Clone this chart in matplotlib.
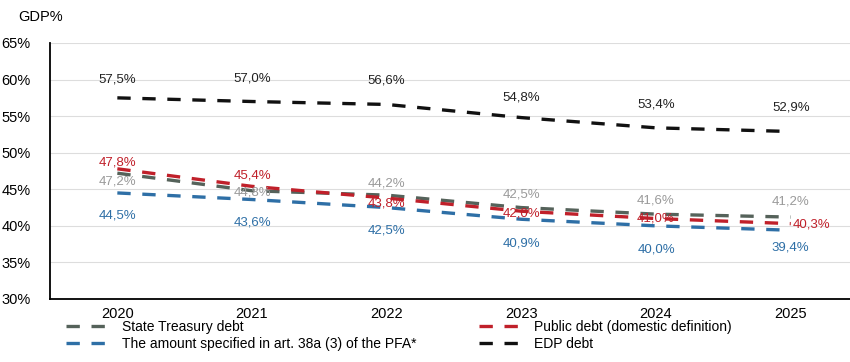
import matplotlib
matplotlib.use("Agg")
import matplotlib.pyplot as plt

plt.rcParams['font.family'] = ['Liberation Sans', 'DejaVu Sans']

years = ["2020", "2021", "2022", "2023", "2024", "2025"]
treasury = [47.2, 44.8, 44.2, 42.5, 41.6, 41.2]
public = [47.8, 45.4, 43.8, 42.0, 41.0, 40.3]
art38a = [44.5, 43.6, 42.5, 40.9, 40.0, 39.4]
edp = [57.5, 57.0, 56.6, 54.8, 53.4, 52.9]
yticks = [30, 35, 40, 45, 50, 55, 60, 65]

fig = plt.figure(figsize=(8.5, 3.62), dpi=100)
ax = fig.add_axes([50/850, 1-299/362, 800/850, (299-43)/362])

x = list(range(len(years)))
# (name, values, line colour, label colour, label offsets in pixels)
series = [
    ("State Treasury debt", treasury, "#55625a", "#9a9a9a",
     [(0, -8), (0, -2), (0, 12), (0, 13), (0, 14), (0, 16)]),
    ("The amount specified in art. 38a (3) of the PFA*", art38a, "#2e6fa6", "#2e6fa6",
     [(0, -23), (0, -23), (0, -23), (0, -24), (0, -24), (0, -17)]),
    ("Public debt (domestic definition)", public, "#c0202a", "#c0202a",
     [(0, 6), (0, 11), (0, -5), (0, -2), (0, 0), (21, -1)]),
    ("EDP debt", edp, "#111111", "#222222",
     [(0, 18), (0, 23), (0, 24), (0, 20), (0, 23), (0, 24)]),
]

handles = {}
for name, vals, col, lcol, offs in series:
    ln, = ax.plot(x, vals, color=col, lw=2.4, dashes=(4, 3.5), label=name)
    handles[name] = ln
    for xi, v, (dx, dy) in zip(x, vals, offs):
        ax.annotate(f"{v:.1f}%".replace(".", ","), (xi, v), xytext=(dx, dy),
                    textcoords="offset pixels", ha="center", va="center",
                    fontsize=9.5, color=lcol)

ax.set_xlim(-0.5, 5.44)
ax.set_ylim(30, 65)
ax.set_yticks(yticks)
ax.set_yticklabels([f"{t}%" for t in yticks])
ax.set_xticks(x)
ax.set_xticklabels(years)
ax.grid(axis='y', color='#dddddd', lw=0.8)
ax.set_axisbelow(True)
for s in ['top', 'right']:
    ax.spines[s].set_visible(False)
ax.spines['left'].set_linewidth(1.3)
ax.spines['bottom'].set_linewidth(1.3)
ax.tick_params(axis='both', length=0, labelsize=10.5)
ax.tick_params(axis='x', pad=6)
ax.tick_params(axis='y', pad=14)

fig.text(18/850, 1-17/362, "GDP%", fontsize=10.5, va='center', ha='left')

order = ["State Treasury debt", "The amount specified in art. 38a (3) of the PFA*",
         "Public debt (domestic definition)", "EDP debt"]
leg = fig.legend([handles[n] for n in order], order, ncol=2, loc='upper left',
                 bbox_to_anchor=(66/850, 1-320/362), frameon=False, fontsize=10,
                 handlelength=3.6, columnspacing=4.5, labelspacing=0.2,
                 handletextpad=0.4, borderaxespad=0, borderpad=0)

fig.savefig("out.png", dpi=100)
